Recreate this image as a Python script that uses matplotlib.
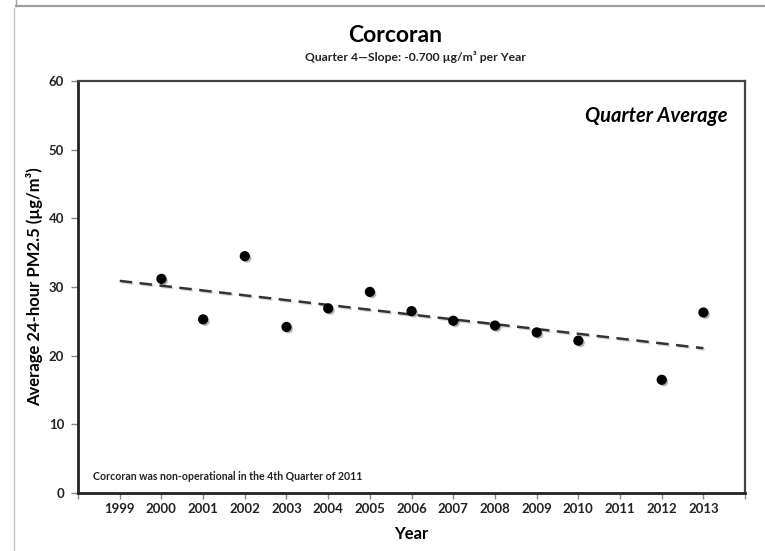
#!/usr/bin/env python3
# corcoran_q4_pm25.py

import numpy as np
import matplotlib
matplotlib.use("Agg")
import matplotlib.pyplot as plt
import matplotlib.patheffects as pe
from matplotlib.lines import Line2D

plt.rcParams['font.family'] = ['Lato', 'DejaVu Sans']

# ---- data ----
years = [2000, 2001, 2002, 2003, 2004, 2005, 2006, 2007, 2008, 2009, 2010, 2012, 2013]
pm25 = [31.2, 25.3, 34.5, 24.2, 26.9, 29.3, 26.5, 25.1, 24.4, 23.4, 22.2, 16.5, 26.3]
trend_years = [1999, 2013]
trend_start = 30.9      # trend value at 1999
trend_slope = -0.700    # ug/m3 per year
tick_years = list(range(1998, 2015))
label_years = list(range(1999, 2014))
y_ticks = [0, 10, 20, 30, 40, 50, 60]

# ------------------------------------------------------------------
fig = plt.figure(figsize=(7.65, 5.51), dpi=100)
ax = fig.add_axes([0.102, 0.105, 0.872, 0.748])

# slide frame lines around the chart
fig.add_artist(Line2D([16 / 765, 1], [1 - 5.5 / 551] * 2, color='#a0a0a0', lw=1.6))
fig.add_artist(Line2D([16 / 765] * 2, [1 - 5.5 / 551, 1], color='#a0a0a0', lw=1.0))
fig.add_artist(Line2D([14 / 765] * 2, [0, 1 - 8 / 551], color='#c8c8c8', lw=1.0))

# ---- trend line ----
trend_vals = [trend_start + trend_slope * (y - trend_years[0]) for y in trend_years]
ax.plot(trend_years, trend_vals, '--', color='#333333', lw=1.8, dashes=(5, 3),
        path_effects=[pe.SimpleLineShadow(offset=(1, -1), alpha=0.15), pe.Normal()])

# ---- quarter averages ----
ax.scatter(years, pm25, s=40, color='black', zorder=3,
           path_effects=[pe.SimplePatchShadow(offset=(1.5, -1.5), alpha=0.3), pe.Normal()])

ax.set_xlim(1998, 2014)
ax.set_ylim(0, 60)

ax.set_xticks(tick_years)
ax.set_xticklabels([str(y) if y in label_years else '' for y in tick_years],
                   fontsize=9.5, fontweight='bold', color='#222222')
ax.set_yticks(y_ticks)
ax.set_yticklabels([str(v) for v in y_ticks], fontsize=9.5, fontweight='bold', color='#222222')
ax.tick_params(axis='x', length=4, width=1, color='#888888', pad=3)
ax.tick_params(axis='y', length=5, width=1, color='#888888', pad=5)

for side in ['left', 'bottom']:
    ax.spines[side].set_linewidth(2.0)
    ax.spines[side].set_color('#222222')
for side in ['top', 'right']:
    ax.spines[side].set_linewidth(1.6)
    ax.spines[side].set_color('#444444')

ax.set_xlabel('Year', fontsize=12, fontweight='bold', labelpad=8)
ax.set_ylabel('Average 24-hour PM2.5 (µg/m³)', fontsize=12, fontweight='bold')
ax.yaxis.set_label_coords(-0.053, 0.5)

# ---- titles and notes ----
fig.text(0.517, 1 - 35 / 551, 'Corcoran', ha='center', va='center',
         fontsize=16.5, fontweight='bold')
fig.text(0.543, 1 - 57 / 551, 'Quarter 4\u2014Slope: -0.700 µg/m³ per Year',
         ha='center', va='center', fontsize=8.7, fontweight='bold', color='#222222')
ax.text(0.973, 0.915, 'Quarter Average', transform=ax.transAxes, ha='right', va='center',
        fontsize=14.5, fontweight='bold', fontstyle='italic')
ax.text(0.022, 0.04, 'Corcoran was non-operational in the 4th Quarter of 2011',
        transform=ax.transAxes, ha='left', va='center', fontsize=7.6,
        fontweight='bold', color='#222222')

fig.savefig('out.png', dpi=100)
